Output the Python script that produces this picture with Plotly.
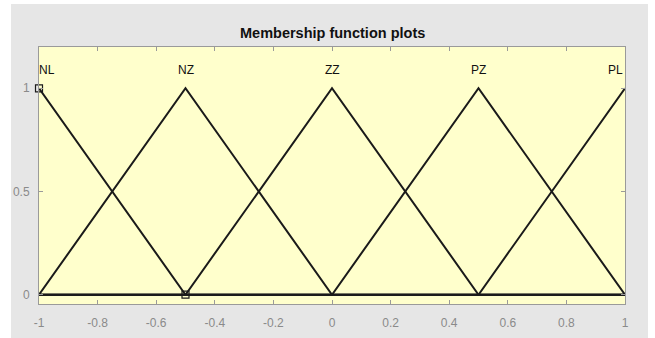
import plotly.graph_objects as go

# Membership functions sampled at their breakpoints over the universe [-1, 1]
x_points = [-1.0, -0.5, 0.0, 0.5, 1.0]
mf_names = ["NL", "NZ", "ZZ", "PZ", "PL"]
mf_peaks = [-1.0, -0.5, 0.0, 0.5, 1.0]
NL = [1, 0, 0, 0, 0]
NZ = [0, 1, 0, 0, 0]
ZZ = [0, 0, 1, 0, 0]
PZ = [0, 0, 0, 1, 0]
PL = [0, 0, 0, 0, 1]
series = [NL, NZ, ZZ, PZ, PL]

# selected-point markers
marker_x = [-1.0, -0.5]
marker_y = [1.0, 0.0]

x_ticks = [-1, -0.8, -0.6, -0.4, -0.2, 0, 0.2, 0.4, 0.6, 0.8, 1]
x_tick_text = ["-1", "-0.8", "-0.6", "-0.4", "-0.2", "0", "0.2", "0.4", "0.6", "0.8", "1"]
y_ticks = [0, 0.5, 1]
y_tick_text = ["0", "0.5", "1"]

W, H = 655, 338
L, R, T, B = 39, 625, 47, 304
X_RANGE = [-1, 1]
Y_RANGE = [-0.045, 1.2]

fig = go.Figure()
for name, ys in zip(mf_names, series):
    fig.add_trace(go.Scatter(x=x_points, y=ys, mode="lines", name=name,
                             line=dict(color="#1a1a1a", width=2), showlegend=False,
                             hoverinfo="skip"))

fig.add_trace(go.Scatter(x=marker_x, y=marker_y, mode="markers", showlegend=False,
                         marker=dict(symbol="square-open", size=7,
                                     color="#1a1a1a", line=dict(width=1.2)),
                         cliponaxis=False))

for name, px in zip(mf_names, mf_peaks):
    anchor = "center"
    if px <= -1:
        anchor = "left"
    elif px >= 1:
        anchor = "right"
    fig.add_annotation(x=px, y=1.087, text=name, showarrow=False,
                       xanchor=anchor, yanchor="middle", xshift=-2 if anchor == "left" else 0,
                       font=dict(family="Liberation Sans, Arial", size=12, color="#111"))

def px_x(p):
    return (p - L) / (R - L)

def px_y(p):
    return (B - p) / (B - T)

# grey figure panel, then the pale yellow axes face on top of it
fig.add_shape(type="rect", xref="paper", yref="paper",
              x0=px_x(11), x1=px_x(648), y0=px_y(338), y1=px_y(4),
              fillcolor="#e6e6e6", line=dict(width=0), layer="below")
fig.add_shape(type="rect", xref="paper", yref="paper",
              x0=0, x1=1, y0=0, y1=1,
              fillcolor="#ffffcc", line=dict(width=0), layer="below")

fig.add_annotation(xref="paper", yref="paper", x=px_x(332), y=px_y(33),
                   text="<b>Membership function plots</b>", showarrow=False,
                   xanchor="center", yanchor="middle",
                   font=dict(family="Liberation Sans, Arial", size=14.5, color="#111"))

axis_common = dict(showgrid=False, zeroline=False, showline=True, linecolor="#9a9a9a",
                   linewidth=1, mirror="ticks", ticks="inside", ticklen=4,
                   tickcolor="#9a9a9a", automargin=False,
                   tickfont=dict(family="Liberation Sans, Arial", size=12, color="#8a8a8a"))

fig.update_xaxes(range=X_RANGE, tickvals=x_ticks, ticktext=x_tick_text,
                 ticklabelstandoff=8, **axis_common)
fig.update_yaxes(range=Y_RANGE, tickvals=y_ticks, ticktext=y_tick_text,
                 ticklabelstandoff=6, **axis_common)

fig.update_layout(width=W, height=H,
                  margin=dict(l=L, r=W - R, t=T, b=H - B, pad=0),
                  paper_bgcolor="white", plot_bgcolor="rgba(0,0,0,0)")

fig.write_html("out.html")
